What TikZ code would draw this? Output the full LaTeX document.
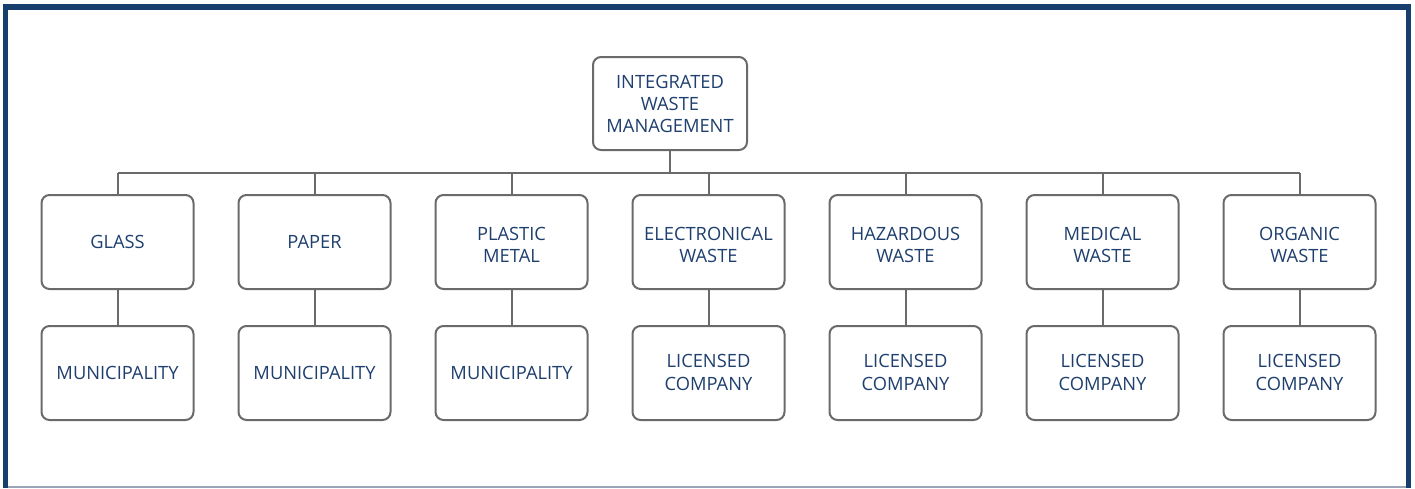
\documentclass[tikz,border=0pt]{standalone}
\usepackage{fontspec}
\setmainfont{Open Sans}
\definecolor{frameblue}{HTML}{173F6E}
\definecolor{textblue}{HTML}{1F3F6E}
\definecolor{linegray}{HTML}{6A6A6A}
\definecolor{bottomline}{HTML}{9AA6B8}
\newcommand{\lowtxt}[2]{\raisebox{#1}[\height][\depth]{\begin{tabular}{@{}c@{}}#2\end{tabular}}}
\tikzset{
  wbox/.style={draw=linegray, line width=2pt, rounded corners=8pt, fill=white,
    minimum width=152pt, minimum height=94pt, align=center, inner sep=2pt,
    text=textblue, font=\fontsize{18.3}{22.3}\selectfont},
  conn/.style={draw=linegray, line width=2pt}
}
\begin{document}
\begin{tikzpicture}[x=1pt,y=-1pt]
\useasboundingbox (0,0) rectangle (1415,488);
% frame
\fill[bottomline] (3,485.5) rectangle (1411,488);
\fill[frameblue] (3,4) rectangle (1411,10);
\fill[frameblue] (3,4) rectangle (8,488);
\fill[frameblue] (1406,4) rectangle (1411,488);
% top node
\node[wbox, minimum width=154pt, minimum height=93pt] (top) at (670,103.5) {\lowtxt{-2.5pt}{INTEGRATED\\WASTE\\MANAGEMENT}};
% row 1
\node[wbox] (a1) at (117.5,242) {GLASS};
\node[wbox] (a2) at (314.5,242) {PAPER};
\node[wbox] (a3) at (511.5,242) {\lowtxt{-5pt}{PLASTIC\\METAL}};
\node[wbox] (a4) at (708.5,242) {\lowtxt{-5pt}{ELECTRONICAL\\WASTE}};
\node[wbox] (a5) at (905.5,242) {\lowtxt{-5pt}{HAZARDOUS\\WASTE}};
\node[wbox] (a6) at (1102.5,242) {\lowtxt{-5pt}{MEDICAL\\WASTE}};
\node[wbox] (a7) at (1299.5,242) {\lowtxt{-5pt}{ORGANIC\\WASTE}};
% row 2
\node[wbox] (b1) at (117.5,373) {MUNICIPALITY};
\node[wbox] (b2) at (314.5,373) {MUNICIPALITY};
\node[wbox] (b3) at (511.5,373) {MUNICIPALITY};
\node[wbox] (b4) at (708.5,373) {\lowtxt{-1.5pt}{LICENSED\\COMPANY}};
\node[wbox] (b5) at (905.5,373) {\lowtxt{-1.5pt}{LICENSED\\COMPANY}};
\node[wbox] (b6) at (1102.5,373) {\lowtxt{-1.5pt}{LICENSED\\COMPANY}};
\node[wbox] (b7) at (1299.5,373) {\lowtxt{-1.5pt}{LICENSED\\COMPANY}};
% bus
\coordinate (busL) at (117.5,173);
\coordinate (busR) at (1299.5,173);
\draw[conn] (busL) -- (busR);
\draw[conn] (top.south) -- (top.south |- busL);
\foreach \i in {1,...,7}{
  \draw[conn] (a\i.north |- busL) -- (a\i.north);
  \draw[conn] (a\i.south) -- (b\i.north);
}
\end{tikzpicture}
\end{document}
